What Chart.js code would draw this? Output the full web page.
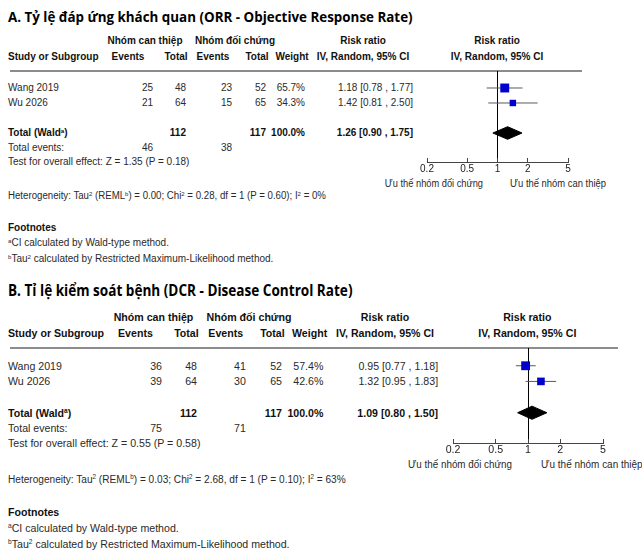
<!DOCTYPE html>
<html>
<head>
<meta charset="utf-8">
<script src="https://cdn.jsdelivr.net/npm/chart.js@4.4.0/dist/chart.umd.min.js"></script>
<style>
    body { margin: 0; background: #fff; }
    #page {
        position: relative; width: 642px; height: 554px; overflow: hidden; background: #fff;
        font-family: "Liberation Sans", Arial, sans-serif; color: #2a2a2a;
    }
    .t { position: absolute; white-space: nowrap; line-height: 1; }
    .t sup { font-size: 0.62em; vertical-align: 0.5em; line-height: 0; }
    .b { font-weight: 700; color: #111; }
    .title { font-family: "Open Sans", "Noto Sans", sans-serif; font-weight: 700; color: #000; }
    .rule { position: absolute; height: 2px; background: #8c8c8c; }
    canvas { position: absolute; }
</style>
</head>
<body>
<div id="page"></div>
<script>
// ---- data ----
const TICKS = [0.2, 0.5, 1, 2, 5];
const TICK_LABELS = ['0.2', '0.5', '1', '2', '5'];
const STUDIES = ['Wang 2019', 'Wu 2026'];

// A. ORR
const A_EVENTS_INT = [25, 21];
const A_TOTAL_INT = [48, 64];
const A_EVENTS_CTL = [23, 15];
const A_TOTAL_CTL = [52, 65];
const A_WEIGHT = [65.7, 34.3];
const A_RR = [1.18, 1.42];
const A_LOW = [0.78, 0.81];
const A_HIGH = [1.77, 2.50];
const A_POOLED = [1.26, 0.90, 1.75];      // estimate, low, high
const A_TOTALS = [112, 117];
const A_TOTAL_EVENTS = [46, 38];
const A_STATS = ['1.35', '0.18', '0.00', '0.28', '1', '0.60', '0%']; // Z, P, Tau2, Chi2, df, P, I2

// B. DCR
const B_EVENTS_INT = [36, 39];
const B_TOTAL_INT = [48, 64];
const B_EVENTS_CTL = [41, 30];
const B_TOTAL_CTL = [52, 65];
const B_WEIGHT = [57.4, 42.6];
const B_RR = [0.95, 1.32];
const B_LOW = [0.77, 0.95];
const B_HIGH = [1.18, 1.83];
const B_POOLED = [1.09, 0.80, 1.50];
const B_TOTALS = [112, 117];
const B_TOTAL_EVENTS = [75, 71];
const B_STATS = ['0.55', '0.58', '0.03', '2.68', '1', '0.10', '63%'];

const panels = [
    {
        title: 'A. Tỷ lệ đáp ứng khách quan (ORR - Objective Response Rate)', titleW: 405,
        evInt: A_EVENTS_INT, totInt: A_TOTAL_INT, evCtl: A_EVENTS_CTL, totCtl: A_TOTAL_CTL,
        weight: A_WEIGHT, rr: A_RR, low: A_LOW, high: A_HIGH, pooled: A_POOLED,
        totals: A_TOTALS, totalEvents: A_TOTAL_EVENTS, stats: A_STATS,
        sx: 1, sy: 1, lineY: 71
    },
    {
        title: 'B. Tỉ lệ kiểm soát bệnh (DCR - Disease Control Rate)', titleW: 324,
        evInt: B_EVENTS_INT, totInt: B_TOTAL_INT, evCtl: B_EVENTS_CTL, totCtl: B_TOTAL_CTL,
        weight: B_WEIGHT, rr: B_RR, low: B_LOW, high: B_HIGH, pooled: B_POOLED,
        totals: B_TOTALS, totalEvents: B_TOTAL_EVENTS, stats: B_STATS,
        sx: 1.062, sy: 1.045, lineY: 348
    }
];

const page = document.getElementById('page');

function put(html, x, y, size, align, cls, fitW) {
    const d = document.createElement('div');
    d.className = 't' + (cls ? ' ' + cls : '');
    d.innerHTML = html;
    d.style.fontSize = size + 'px';
    d.style.left = x + 'px';
    d.style.top = y + 'px';
    page.appendChild(d);
    const tx = align === 'center' ? '-50%' : align === 'right' ? '-100%' : '0';
    let tf = `translate(${tx}, -50%)`;
    if (fitW) {
        const ox = align === 'center' ? '50%' : align === 'right' ? '100%' : '0';
        d.style.transformOrigin = `${ox} 50%`;
        tf += ` scaleX(${fitW / d.offsetWidth})`;
    }
    d.style.transform = tf;
    return d;
}

const fmtCI = (v, lo, hi) => `${v.toFixed(2)} [${lo.toFixed(2)} , ${hi.toFixed(2)}]`;

function buildPanel(p) {
    const s = p.sx;
    // layout is written in panel-A pixel space, then scaled for panel B
    const X = x => 8 + (x - 8) * p.sx;
    const Y = y => p.lineY + (y - 71) * p.sy;
    const fs = 10 * s;

    put(p.title, X(8), Y(16), 15 * s, 'left', 'title', p.titleW * s);

    // header
    put('Nhóm can thiệp', X(145), Y(41), fs, 'center', 'b');
    put('Nhóm đối chứng', X(235), Y(41), fs, 'center', 'b');
    put('Risk ratio', X(363), Y(41), fs, 'center', 'b');
    put('Risk ratio', X(497), Y(41), fs, 'center', 'b');
    put('Study or Subgroup', X(8), Y(57), fs, 'left', 'b');
    put('Events', X(128), Y(57), fs, 'center', 'b');
    put('Total', X(176), Y(57), fs, 'center', 'b');
    put('Events', X(213), Y(57), fs, 'center', 'b');
    put('Total', X(257), Y(57), fs, 'center', 'b');
    put('Weight', X(292), Y(57), fs, 'center', 'b');
    put('IV, Random, 95% CI', X(363), Y(57), fs, 'center', 'b');
    put('IV, Random, 95% CI', X(497), Y(57), fs, 'center', 'b');

    const rule = document.createElement('div');
    rule.className = 'rule';
    rule.style.left = X(10) + 'px';
    rule.style.width = (X(582) - X(10)) + 'px';
    rule.style.top = (Y(71) - 1) + 'px';
    page.appendChild(rule);

    // study rows
    STUDIES.forEach((name, i) => {
        const y = Y(88 + i * 15);
        put(name, X(8), y, fs, 'left');
        put(p.evInt[i], X(153), y, fs, 'right');
        put(p.totInt[i], X(186), y, fs, 'right');
        put(p.evCtl[i], X(232), y, fs, 'right');
        put(p.totCtl[i], X(266), y, fs, 'right');
        put(p.weight[i].toFixed(1) + '%', X(305), y, fs, 'right');
        put(fmtCI(p.rr[i], p.low[i], p.high[i]), X(413), y, fs, 'right');
    });

    // totals
    put('Total (Wald<sup>a</sup>)', X(8), Y(133), fs, 'left', 'b');
    put(p.totals[0], X(186), Y(133), fs, 'right', 'b');
    put(p.totals[1], X(266), Y(133), fs, 'right', 'b');
    put('100.0%', X(305), Y(133), fs, 'right', 'b');
    put(fmtCI(p.pooled[0], p.pooled[1], p.pooled[2]), X(413), Y(133), fs, 'right', 'b');
    put('Total events:', X(8), Y(148), fs, 'left');
    put(p.totalEvents[0], X(153), Y(148), fs, 'right');
    put(p.totalEvents[1], X(232), Y(148), fs, 'right');
    const st = p.stats;
    put(`Test for overall effect: Z = ${st[0]} (P = ${st[1]})`, X(8), Y(162), fs, 'left');
    put(`Heterogeneity: Tau<sup>2</sup> (REML<sup>b</sup>) = ${st[2]}; Chi<sup>2</sup> = ${st[3]}, df = ${st[4]} (P = ${st[5]}); I<sup>2</sup> = ${st[6]}`,
        X(8), Y(196), fs, 'left', null, 318 * s);
    put('Footnotes', X(8), Y(228), fs, 'left', 'b');
    put('<sup>a</sup>CI calculated by Wald-type method.', X(8), Y(243), fs, 'left');
    put('<sup>b</sup>Tau<sup>2</sup> calculated by Restricted Maximum-Likelihood method.', X(8), Y(259), fs, 'left');

    // direction labels under the axis
    put('Ưu thế nhóm đối chứng', X(483), Y(183), 10.5 * s, 'right', null, 98 * s);
    put('Ưu thế nhóm can thiệp', X(510), Y(183), 10.5 * s, 'left', null, 96 * s);

    drawForest(p, X, Y, s);
}

function drawForest(p, X, Y, s) {
    const L = Math.round(X(427)), T = Math.round(Y(71));
    const plotW = Math.round(X(568) - X(427)), plotH = Math.round(Y(162) - Y(71));
    const padL = 30, padR = 40, padT = 10, axisH = 30;
    const canvas = document.createElement('canvas');
    canvas.width = plotW + padL + padR;
    canvas.height = plotH + padT + axisH;
    canvas.style.left = (L - padL) + 'px';
    canvas.style.top = (T - padT) + 'px';
    page.appendChild(canvas);

    const rows = STUDIES.map((_, i) => i + 1);
    const totalRow = 4;
    const dh = 0.42;
    const [est, lo, hi] = p.pooled;

    const datasets = [{
        type: 'scatter',
        data: p.rr.map((v, i) => ({ x: v, y: rows[i] })),
        pointStyle: 'rect',
        pointRadius: p.weight.map(w => 1.1 * Math.sqrt(w) * s / Math.SQRT2),
        backgroundColor: '#0000cc',
        borderWidth: 0
    }];
    p.rr.forEach((_, i) => {
        datasets.push({
            type: 'line',
            data: [{ x: p.low[i], y: rows[i] }, { x: p.high[i], y: rows[i] }],
            borderColor: '#5a5a5a',
            borderWidth: 1,
            pointRadius: 0
        });
    });
    datasets.push({
        type: 'line',
        data: [
            { x: lo, y: totalRow }, { x: est, y: totalRow - dh },
            { x: hi, y: totalRow }, { x: est, y: totalRow + dh }, { x: lo, y: totalRow }
        ],
        fill: 'shape',
        backgroundColor: '#000',
        borderColor: '#000',
        borderWidth: 1,
        pointRadius: 0,
        tension: 0
    });

    new Chart(canvas, {
        type: 'scatter',
        data: { datasets },
        options: {
            responsive: false,
            animation: false,
            devicePixelRatio: 1,
            layout: { padding: { left: padL, right: padR, top: padT, bottom: 0 } },
            plugins: { legend: { display: false }, tooltip: { enabled: false } },
            scales: {
                x: {
                    type: 'logarithmic',
                    min: 0.2,
                    max: 5,
                    position: 'bottom',
                    afterBuildTicks: sc => { sc.ticks = TICKS.map(v => ({ value: v })); },
                    afterFit: sc => { sc.height = axisH; },
                    ticks: {
                        autoSkip: false,
                        maxRotation: 0,
                        padding: 5,
                        color: '#222',
                        font: { family: 'Liberation Sans', size: 10 * s },
                        callback: (v, i) => TICK_LABELS[i]
                    },
                    grid: {
                        drawOnChartArea: true,
                        color: c => (c.tick && c.tick.value === 1) ? '#000' : 'rgba(0,0,0,0)',
                        tickColor: '#444',
                        tickLength: -4,
                        lineWidth: 1
                    },
                    border: { display: true, color: '#444', width: 1 }
                },
                y: {
                    type: 'linear',
                    display: false,
                    reverse: true,
                    min: -0.1333,
                    max: 5.9333
                }
            }
        }
    });
}

panels.forEach(buildPanel);
</script>
</body>
</html>
